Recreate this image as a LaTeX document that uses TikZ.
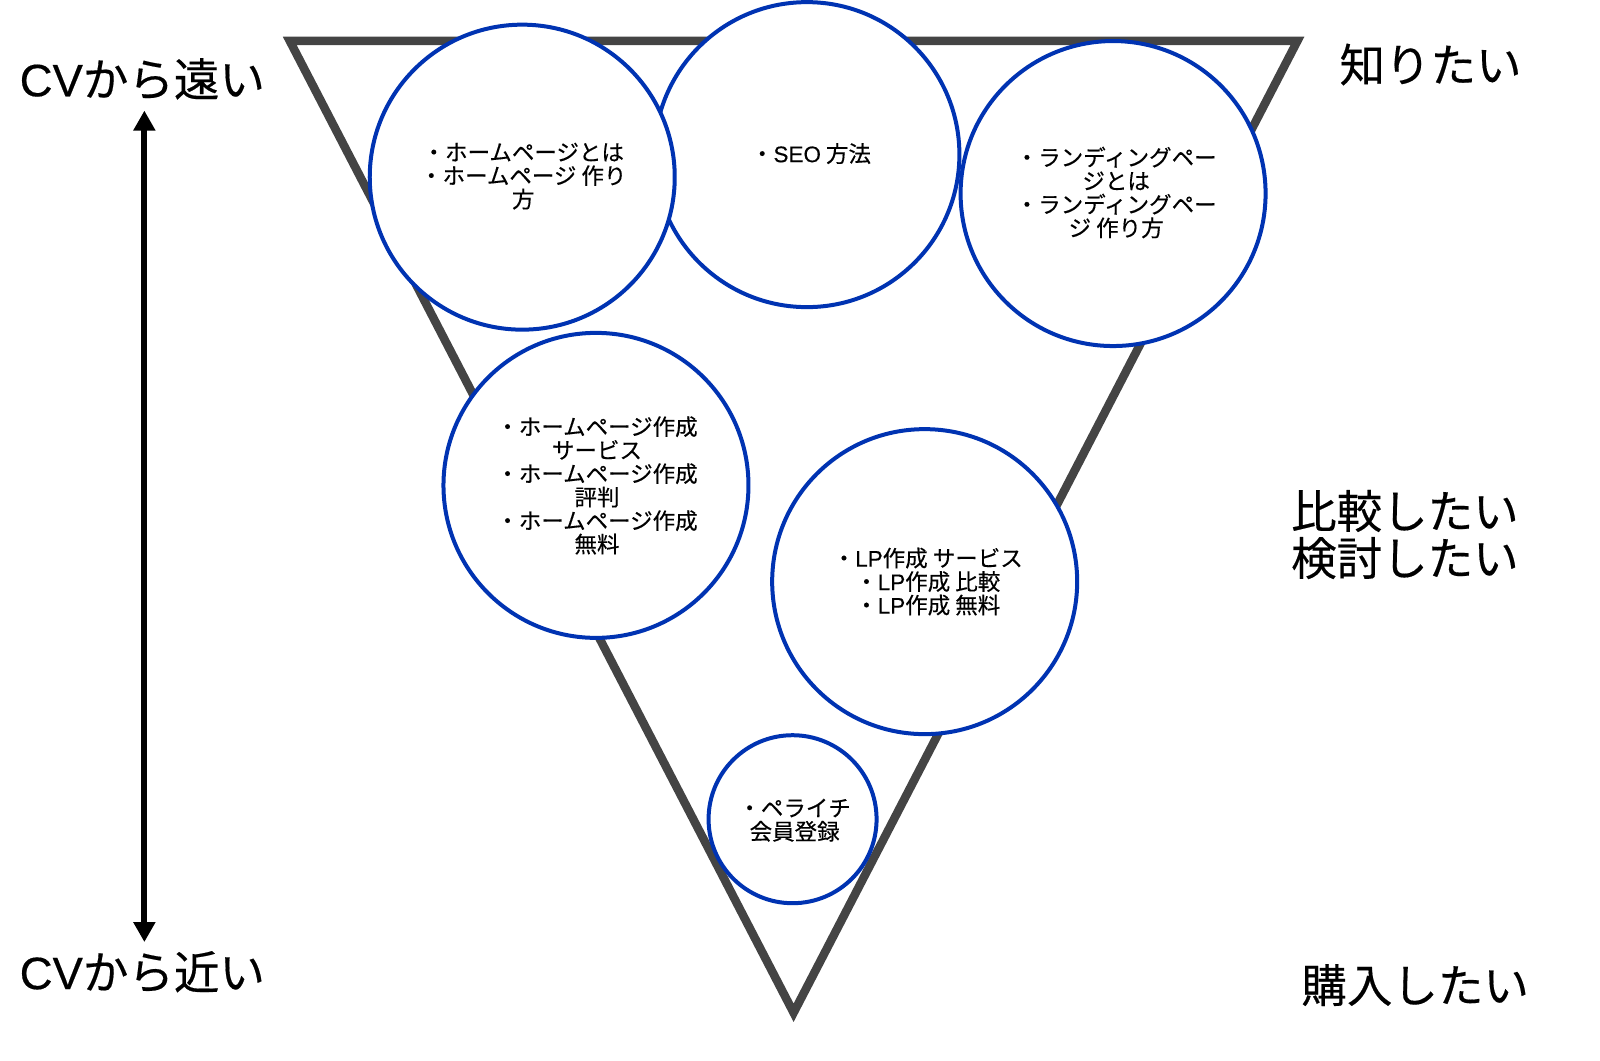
\documentclass[tikz,border=0pt]{standalone}
\usepackage{fontspec}
\setmainfont{Noto Sans CJK JP}[FakeBold=0.35]
\newfontfamily\lat{Liberation Sans}[FakeBold=0.35]
\usetikzlibrary{arrows.meta}
\definecolor{tri}{HTML}{444444}
\definecolor{cblue}{RGB}{0,51,178}
\begin{document}
\begin{tikzpicture}[x=1.024pt,y=-1.024pt,
  bubble/.style={circle,draw=cblue,line width=4pt,fill=white,inner sep=0pt},
  big/.style={bubble,minimum size=305pt},
  small/.style={bubble,minimum size=168pt},
  ctext/.style={align=center,inner sep=0pt,font=\fontsize{22.5}{23.5}\selectfont},
  lbl/.style={align=center,inner sep=0pt,font=\fontsize{45.5}{47}\selectfont}]
\useasboundingbox (0,0) rectangle (1562.5,1035.2);
% funnel
\coordinate (tl) at (283,40);
\coordinate (tr) at (1267,40);
\coordinate (bt) at (775,989);
\draw[tri,line width=8.5pt,line join=miter] (tl) -- (tr) -- (bt) -- cycle;
% bubbles
\node[big] (c2) at (788,151) {};
\node[big] (c1) at (510,173) {};
\node[big] (c3) at (1087,189) {};
\node[big] (c4) at (582,474) {};
\node[big] (c5) at (903,568) {};
\node[small] (c6) at (774,800) {};
% bubble texts
\node[ctext] (t1) at (511,172) {・ホームページとは\\・ホームページ 作り\\方};
\node[ctext] (t2) at (792,150) {・{\lat SEO} 方法};
\node[ctext] (t3) at (1090,188) {・ランディングペー\\ジとは\\・ランディングペー\\ジ 作り方};
\node[ctext] (t4) at (583,474) {・ホームページ作成\\サービス\\・ホームページ作成\\評判\\・ホームページ作成\\無料};
\node[ctext] (t5) at (906,568) {・{\lat LP}作成 サービス\\・{\lat LP}作成 比較\\・{\lat LP}作成 無料};
\node[ctext] (t6) at (776,801) {・ペライチ\\会員登録};
% side labels
\node[lbl] (far) at (139,77) {{\lat CV}から遠い};
\node[lbl] (near) at (139,949) {{\lat CV}から近い};
\node[lbl] (know) at (1397,63) {知りたい};
\node[lbl] (comp) at (1372,522) {比較したい\\検討したい};
\node[lbl] (buy) at (1382,962) {購入したい};
% axis arrow
\coordinate (atop) at (141,108);
\coordinate (abot) at (141,920);
\draw[line width=6pt,{Triangle[width=21pt,length=20pt]}-{Triangle[width=21pt,length=20pt]}] (atop) -- (abot);
\end{tikzpicture}
\end{document}
